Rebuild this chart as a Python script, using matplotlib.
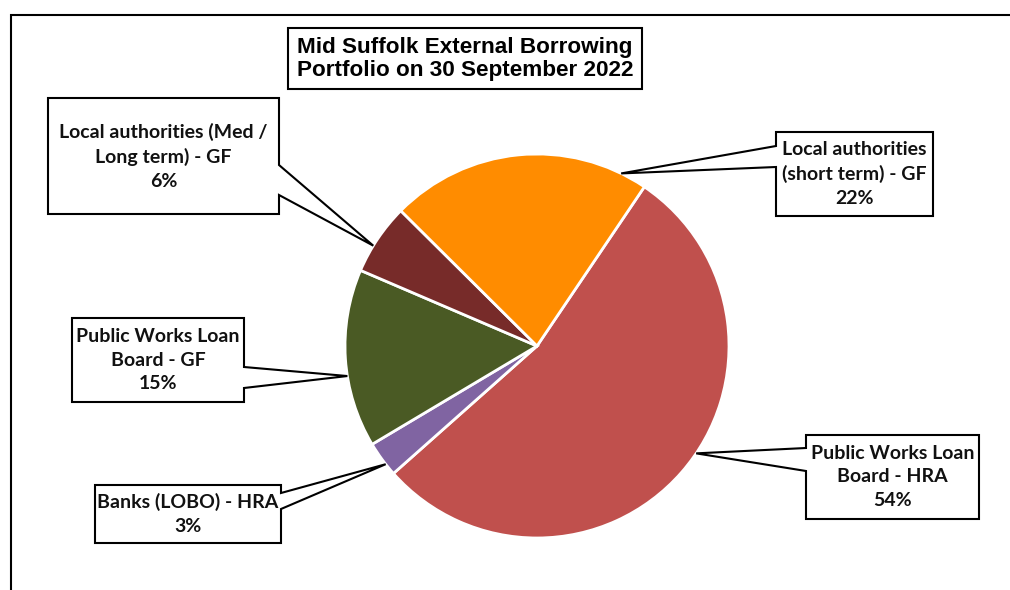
import numpy as np
import matplotlib.pyplot as plt
from matplotlib.patches import Polygon, Rectangle

# slices in drawing order (clockwise from startangle)
labels = ['Public Works Loan\nBoard - HRA', 'Banks (LOBO) - HRA',
          'Public Works Loan\nBoard - GF', 'Local authorities (Med /\nLong term) - GF',
          'Local authorities\n(short term) - GF']
shares = [54, 3, 15, 6, 22]
colors = ['#C0504D', '#8064A2', '#4A5A24', '#772B29', '#FF8C00']

title = 'Mid Suffolk External Borrowing\nPortfolio on 30 September 2022'

W, H = 1010, 590
cx, cy, R = 537, H - 346, 192

# callout boxes in image pixels: (left, top, right, bottom), pointer base side, base y range, tip angle
boxes = [
    ((806, 435, 979, 519), 'left', (448, 471), -34),
    ((95, 485, 281, 543), 'right', (493, 509), 218),
    ((72, 318, 244, 402), 'right', (367, 388), 189),
    ((48, 98, 279, 214), 'right', (165, 195), 148.5),
    ((776, 132, 933, 216), 'left', (146, 167), 64),
]

fig = plt.figure(figsize=(W / 100, H / 100), dpi=100)
ax = fig.add_axes([0, 0, 1, 1])
ax.pie(shares, colors=colors, startangle=56, counterclock=False,
       center=(cx, cy), radius=R, frame=True,
       wedgeprops=dict(edgecolor='white', linewidth=2))
ax.set_xlim(0, W)
ax.set_ylim(0, H)
ax.set_aspect('auto')
ax.axis('off')

# outer chart frame
ax.add_patch(Rectangle((11, -20), W + 20, H - 15 + 20, fill=False,
                       edgecolor='black', linewidth=1.5))

# title box
ax.add_patch(Rectangle((288, H - 89), 354, 61, facecolor='white',
                       edgecolor='black', linewidth=1.5))
ax.text(465, H - 59, title, ha='center', va='center', fontsize=16.2,
        fontweight='bold', family='Liberation Sans', linespacing=1.15)

for (l, t, r, b), side, (y1, y2), ang, lab, val in zip(
        [bx[0] for bx in boxes], [bx[1] for bx in boxes],
        [bx[2] for bx in boxes], [bx[3] for bx in boxes], labels, shares):
    tip = (cx + R * np.cos(np.radians(ang)), cy + R * np.sin(np.radians(ang)))
    L, T, Rr, B = l, H - t, r, H - b
    Y1, Y2 = H - y1, H - y2
    if side == 'right':
        pts = [(L, T), (Rr, T), (Rr, Y1), tip, (Rr, Y2), (Rr, B), (L, B)]
    else:
        pts = [(L, T), (Rr, T), (Rr, B), (L, B), (L, Y2), tip, (L, Y1)]
    ax.add_patch(Polygon(pts, closed=True, facecolor='white',
                         edgecolor='black', linewidth=1.5, zorder=3))
    ax.text((L + Rr) / 2, (T + B) / 2, f'{lab}\n{val}%', ha='center',
            va='center', fontsize=14, fontweight='bold', family='Lato',
            linespacing=1.48, zorder=4, color='#111111')

fig.savefig('out.png', dpi=100)
